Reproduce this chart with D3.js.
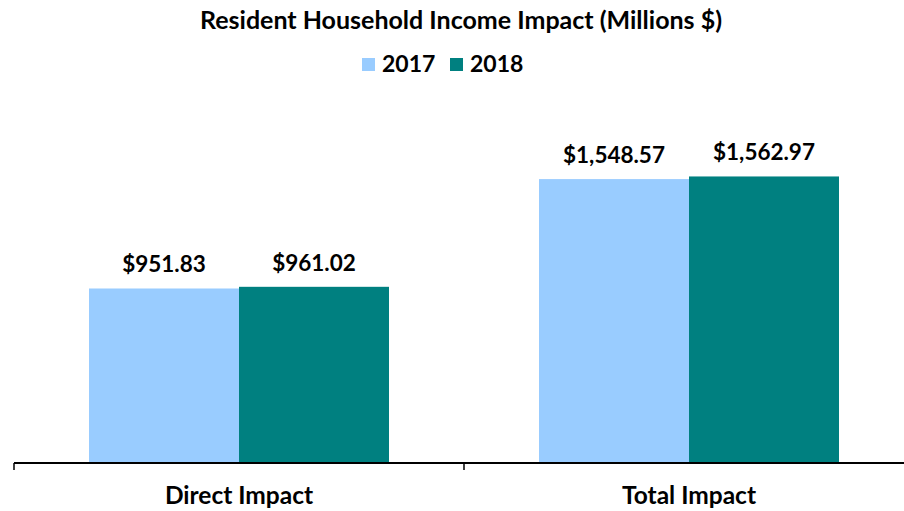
<!DOCTYPE html>
<html>
<head>
<meta charset="utf-8">
<script src="https://cdn.jsdelivr.net/npm/d3@7"></script>
<style>
  body { margin: 0; background: #fff; }
  text { font-family: Lato, "Open Sans", sans-serif; font-weight: bold; fill: #000; }
</style>
</head>
<body>
<div id="chart"></div>
<script>
const categories = ['Direct Impact', 'Total Impact']
const years = ['2017', '2018']
const values2017 = [951.83, 1548.57]
const values2018 = [961.02, 1562.97]
const colors = ['#99ccff', '#008080']

const width = 904
const height = 511

const svg = d3.select('#chart')
  .append('svg')
  .attr('width', width)
  .attr('height', height)

const baseline = 463

const x0 = d3.scaleBand().domain(categories).range([14, 914])
const x1 = d3.scaleBand().domain(years).range([75, 375])
const y = d3.scaleLinear().domain([0, 1800]).range([baseline, 133])
const color = d3.scaleOrdinal().domain(years).range(colors)

const fmt = d => '$' + d3.format(',.2f')(d)

const rows = categories.map((c, i) => ({
  cat: c,
  vals: [
    { year: '2017', v: values2017[i] },
    { year: '2018', v: values2018[i] }
  ]
}))

// title
svg.append('text')
  .attr('x', 461)
  .attr('y', 29)
  .attr('text-anchor', 'middle')
  .attr('font-size', 25)
  .text('Resident Household Income Impact (Millions $)')

// legend
const legend = svg.append('g').attr('transform', 'translate(362,58)')
const legendX = [0, 88]
years.forEach((yr, i) => {
  const g = legend.append('g').attr('transform', `translate(${legendX[i]},0)`)
  g.append('rect').attr('width', 13).attr('height', 13).attr('fill', color(yr))
  g.append('text').attr('x', 20).attr('y', 14).attr('font-size', 23).text(yr)
})

// bars
const groups = svg.selectAll('.cat')
  .data(rows)
  .enter()
  .append('g')
  .attr('class', 'cat')
  .attr('transform', d => `translate(${x0(d.cat)},0)`)

groups.selectAll('rect')
  .data(d => d.vals)
  .enter()
  .append('rect')
  .attr('x', d => x1(d.year))
  .attr('y', d => y(d.v))
  .attr('width', x1.bandwidth())
  .attr('height', d => baseline - y(d.v))
  .attr('fill', d => color(d.year))

groups.selectAll('.label')
  .data(d => d.vals)
  .enter()
  .append('text')
  .attr('class', 'label')
  .attr('x', d => x1(d.year) + x1.bandwidth() / 2)
  .attr('y', d => y(d.v) - 16)
  .attr('text-anchor', 'middle')
  .attr('font-size', 22.5)
  .text(d => fmt(d.v))

// x axis
const xAxis = d3.axisBottom(x0).tickSize(0).tickPadding(24)
const axisG = svg.append('g')
  .attr('class', 'x-axis')
  .attr('transform', `translate(0,${baseline})`)
  .call(xAxis)
axisG.select('.domain').remove()
axisG.append('line')
  .attr('x1', 14).attr('x2', 914)
  .attr('stroke', '#000').attr('stroke-width', 2)
axisG.selectAll('.boundary')
  .data([14, 464])
  .enter()
  .append('line')
  .attr('x1', d => d).attr('x2', d => d)
  .attr('y1', 0).attr('y2', 7)
  .attr('stroke', '#000').attr('stroke-width', 1.5)
axisG.selectAll('.tick text')
  .attr('font-size', 24.5)
  .attr('font-family', 'Lato, sans-serif')
  .attr('font-weight', 'bold')
  .attr('fill', '#000')
</script>
</body>
</html>
